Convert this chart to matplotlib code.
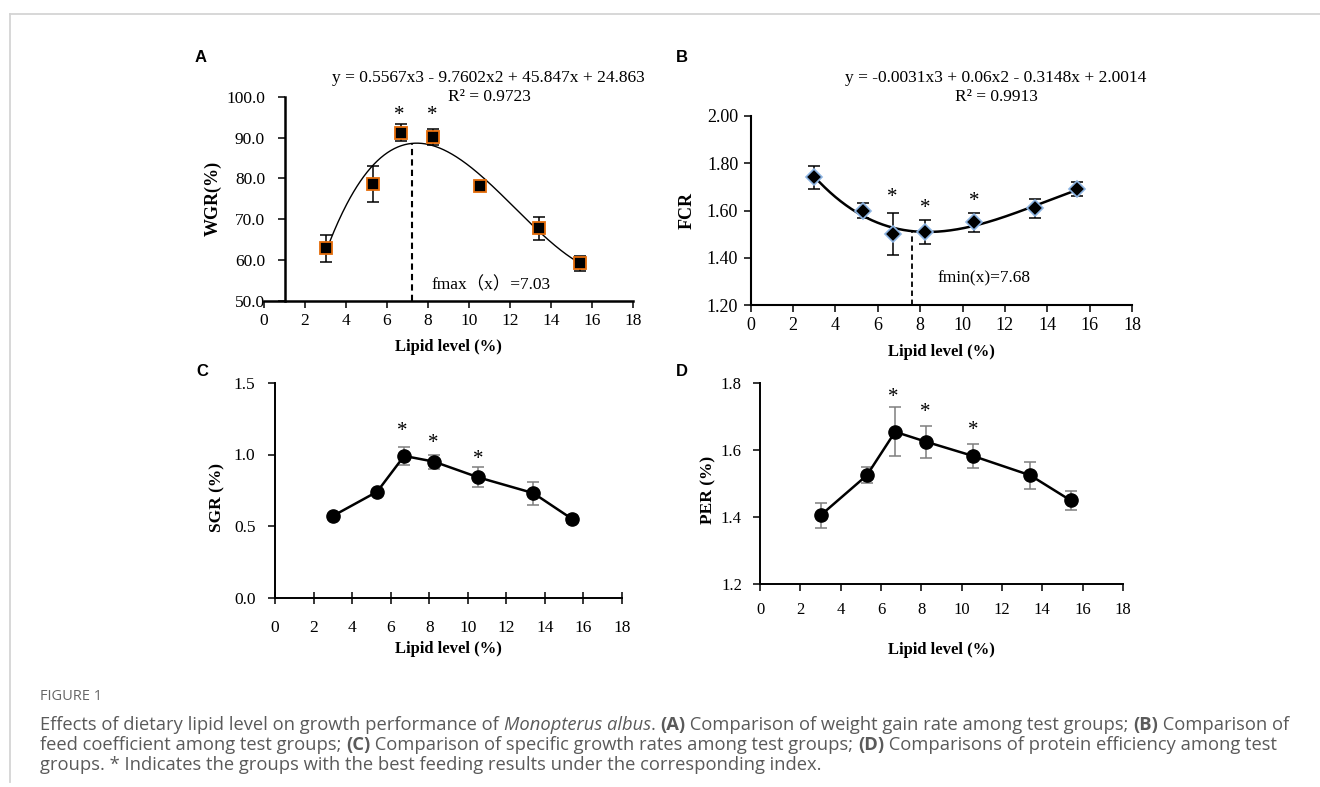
import numpy as np
import matplotlib
matplotlib.use("Agg")
import matplotlib.pyplot as plt
from matplotlib.lines import Line2D

# ---------------- data ----------------
lipid = [3.0, 5.3, 6.7, 8.25, 10.55, 13.4, 15.4]

wgr = [62.8, 78.6, 91.2, 90.2, 78.2, 67.7, 59.2]
wgr_err = [3.3, 4.4, 2.0, 2.0, 0.5, 2.9, 1.8]
wgr_star_x = [6.6, 8.2]
wgr_star_y = [95.3, 95.3]
wgr_opt = 7.2

fcr = [1.74, 1.60, 1.50, 1.51, 1.55, 1.61, 1.69]
fcr_err = [0.05, 0.03, 0.09, 0.05, 0.04, 0.04, 0.03]
fcr_star_x = [6.7, 8.25, 10.55]
fcr_star_y = [1.655, 1.61, 1.64]
fcr_opt = 7.6

sgr = [0.57, 0.74, 0.99, 0.95, 0.84, 0.73, 0.55]
sgr_err = [0.01, 0.01, 0.06, 0.05, 0.07, 0.08, 0.03]
sgr_star_x = [6.6, 8.2, 10.55]
sgr_star_y = [1.16, 1.08, 0.965]

per = [1.405, 1.525, 1.655, 1.625, 1.583, 1.525, 1.450]
per_err = [0.038, 0.024, 0.073, 0.047, 0.036, 0.040, 0.029]
per_star_x = [6.6, 8.2, 10.55]
per_star_y = [1.758, 1.713, 1.658]

x_ticks = [0, 2, 4, 6, 8, 10, 12, 14, 16, 18]
wgr_ticks = [50, 60, 70, 80, 90, 100]
fcr_ticks = [1.2, 1.4, 1.6, 1.8, 2.0]
sgr_ticks = [0.0, 0.5, 1.0, 1.5]
per_ticks = [1.2, 1.4, 1.6, 1.8]

eqA = "y = 0.5567x3 - 9.7602x2 + 45.847x + 24.863"
r2A = "R² = 0.9723"
eqB = "y = -0.0031x3 + 0.06x2 - 0.3148x + 2.0014"
r2B = "R² = 0.9913"
optA = "fmax（x）=7.03"
optB = "fmin(x)=7.68"

# ---------------- figure ----------------
W, H = 1320, 787
fig = plt.figure(figsize=(W / 100, H / 100), dpi=100)
fig.patch.set_facecolor("white")

SERIF = ["Liberation Serif", "DejaVu Serif"]
SANS = ["Liberation Sans", "DejaVu Sans"]
plt.rcParams["font.family"] = SERIF


def px_axes(x0, x1, y_top, y_bot):
    return fig.add_axes([x0 / W, 1 - y_bot / H, (x1 - x0) / W, (y_bot - y_top) / H])


# frame lines
fig.add_artist(Line2D([10 / W, 1.0], [1 - 14 / H, 1 - 14 / H], color="#d4d4d4", lw=1.3))
fig.add_artist(Line2D([10 / W, 10 / W], [1 - 14 / H, 1 - 782 / H], color="#d4d4d4", lw=1.3))


def style_axes(ax, yticks, fmt, tsize, lw):
    for s in ["top", "right"]:
        ax.spines[s].set_visible(False)
    for s in ["left", "bottom"]:
        ax.spines[s].set_linewidth(lw)
    ax.set_xlim(0, 18)
    ax.set_xticks(x_ticks)
    ax.set_yticks(yticks)
    ax.set_yticklabels([fmt.format(v) for v in yticks])
    ax.tick_params(axis="both", direction="out", length=5, width=1.1,
                   labelsize=tsize, pad=4)
    ax.set_facecolor("none")


def xlab(ax, xl_y):
    ax.text(0.5, xl_y, "Lipid level (%)", transform=ax.transAxes, ha="center",
            va="center", fontsize=12, fontweight="bold")


STAR = 15

# ---------------- panel A ----------------
axA = px_axes(264, 633, 96.7, 300.7)
style_axes(axA, wgr_ticks, "{:.1f}", 12.5, 1.8)
axA.set_ylim(50, 100)
axA.spines["left"].set_position(("data", 1.0))
axA.tick_params(axis="y", pad=9)
cA = np.polyfit(lipid, wgr, 3)
xs = np.linspace(lipid[0], lipid[-1], 300)
axA.plot(xs, np.polyval(cA, xs), color="black", lw=1.0, zorder=2)
axA.plot([wgr_opt, wgr_opt], [50, np.polyval(cA, wgr_opt)], color="black",
         lw=1.5, ls=(0, (3, 2)), zorder=2)
axA.errorbar(lipid, wgr, yerr=wgr_err, fmt="none", ecolor="black", elinewidth=1.1,
             capsize=4, capthick=1.1, zorder=3)
axA.plot(lipid, wgr, ls="none", marker="s", ms=9, mfc="black", mec="#E46C0A",
         mew=1.3, zorder=4)
for sx, sy in zip(wgr_star_x, wgr_star_y):
    axA.text(sx, sy, "*", ha="center", va="center", fontsize=STAR)
axA.text(8.15, 53.8, optA, ha="left", va="center", fontsize=12.5,
         family=["Liberation Serif", "Noto Sans CJK SC"])
xlab(axA, -0.227)
axA.text(-0.138, 0.5, "WGR(%)", transform=axA.transAxes, rotation=90,
         ha="center", va="center", fontsize=13, fontweight="bold")
fig.text(488 / W, 1 - 78 / H, eqA, ha="center", va="center", fontsize=12.5)
fig.text(489 / W, 1 - 97 / H, r2A, ha="center", va="center", fontsize=12.5)

# ---------------- panel B ----------------
axB = px_axes(750.7, 1132, 116, 305)
style_axes(axB, fcr_ticks, "{:.2f}", 13, 1.5)
axB.set_ylim(1.2, 2.0)
cB = np.polyfit(lipid, fcr, 3)
axB.plot(xs, np.polyval(cB, xs), color="black", lw=1.8, zorder=2)
axB.plot([fcr_opt, fcr_opt], [1.2, np.polyval(cB, fcr_opt)], color="black",
         lw=1.3, ls=(0, (3, 2)), zorder=2)
axB.errorbar(lipid, fcr, yerr=fcr_err, fmt="none", ecolor="black", elinewidth=1.1,
             capsize=4, capthick=1.1, zorder=3)
axB.plot(lipid, fcr, ls="none", marker="D", ms=8, mfc="black", mec="#8DB4E2",
         mew=1.2, zorder=4)
for sx, sy in zip(fcr_star_x, fcr_star_y):
    axB.text(sx, sy, "*", ha="center", va="center", fontsize=STAR)
axB.text(8.83, 1.314, optB, ha="left", va="center", fontsize=12.5)
xlab(axB, -0.25)
axB.text(-0.167, 0.5, "FCR", transform=axB.transAxes, rotation=90,
         ha="center", va="center", fontsize=13, fontweight="bold")
fig.text(996 / W, 1 - 78 / H, eqB, ha="center", va="center", fontsize=12.5)
fig.text(996 / W, 1 - 97 / H, r2B, ha="center", va="center", fontsize=12.5)

# ---------------- panel C ----------------
axC = px_axes(275, 622, 383, 597.5)
style_axes(axC, sgr_ticks, "{:.1f}", 12.5, 1.4)
axC.set_ylim(0, 1.5)
axC.tick_params(axis="x", direction="inout", length=8, pad=12)
axC.tick_params(axis="y", pad=9)
axC.errorbar(lipid, sgr, yerr=sgr_err, fmt="none", ecolor="#7f7f7f", elinewidth=1.1,
             capsize=4, capthick=1.1, zorder=3)
axC.plot(lipid, sgr, color="black", lw=1.8, marker="o", ms=9.5, mfc="black",
         mec="black", zorder=4)
for sx, sy in zip(sgr_star_x, sgr_star_y):
    axC.text(sx, sy, "*", ha="center", va="center", fontsize=STAR)
xlab(axC, -0.238)
axC.text(-0.167, 0.468, "SGR (%)", transform=axC.transAxes, rotation=90,
         ha="center", va="center", fontsize=12.5, fontweight="bold")

# ---------------- panel D ----------------
axD = px_axes(760, 1123, 383.3, 584)
style_axes(axD, per_ticks, "{:.1f}", 12, 1.4)
axD.set_ylim(1.2, 1.8)
axD.tick_params(axis="x", pad=8)
axD.tick_params(axis="y", pad=8)
axD.errorbar(lipid, per, yerr=per_err, fmt="none", ecolor="#7f7f7f", elinewidth=1.1,
             capsize=4, capthick=1.1, zorder=3)
axD.plot(lipid, per, color="black", lw=1.8, marker="o", ms=9.5, mfc="black",
         mec="black", zorder=4)
for sx, sy in zip(per_star_x, per_star_y):
    axD.text(sx, sy, "*", ha="center", va="center", fontsize=STAR)
xlab(axD, -0.329)
axD.text(-0.143, 0.468, "PER (%)", transform=axD.transAxes, rotation=90,
         ha="center", va="center", fontsize=12.5, fontweight="bold")

# ---------------- panel letters ----------------
for letter, (lx, ly) in zip("ABCD", [(201, 57.5), (682, 57.5), (202, 372), (682, 372)]):
    fig.text(lx / W, 1 - ly / H, letter, ha="center", va="center", fontsize=12,
             fontweight="bold", family=SANS)

# ---------------- caption ----------------
CAP = ["Open Sans", "DejaVu Sans"]
cap_color = "#5a5a5a"
cap_size = 13.2
fig.text(40 / W, 1 - 697 / H, "FIGURE 1", ha="left", va="center", fontsize=10.5,
         color="#666666", family=CAP)

lines = [
    [("Effects of dietary lipid level on growth performance of ", "normal", "normal"),
     ("Monopterus albus", "italic", "normal"), (". ", "normal", "normal"),
     ("(A)", "normal", "bold"),
     (" Comparison of weight gain rate among test groups; ", "normal", "normal"),
     ("(B)", "normal", "bold"), (" Comparison of", "normal", "normal")],
    [("feed coefficient among test groups; ", "normal", "normal"),
     ("(C)", "normal", "bold"),
     (" Comparison of specific growth rates among test groups; ", "normal", "normal"),
     ("(D)", "normal", "bold"),
     (" Comparisons of protein efficiency among test", "normal", "normal")],
    [("groups. * Indicates the groups with the best feeding results under the corresponding index.",
      "normal", "normal")],
]
line_y = [725, 745, 765]
capax = fig.add_axes([0, 0, 1, 1])
capax.axis("off")
capax.set_xlim(0, 1)
capax.set_ylim(0, 1)
for pieces, ly in zip(lines, line_y):
    s, st, wt = pieces[0]
    prev = capax.text(40 / W, 1 - ly / H, s, ha="left", va="center", fontsize=cap_size,
                      color=cap_color, family=CAP, style=st, weight=wt)
    for s, st, wt in pieces[1:]:
        prev = capax.annotate(s, xy=(1, 0), xycoords=prev, ha="left", va="bottom",
                              fontsize=cap_size, color=cap_color, family=CAP,
                              style=st, weight=wt)

fig.savefig("out.png", dpi=100, facecolor="white")
